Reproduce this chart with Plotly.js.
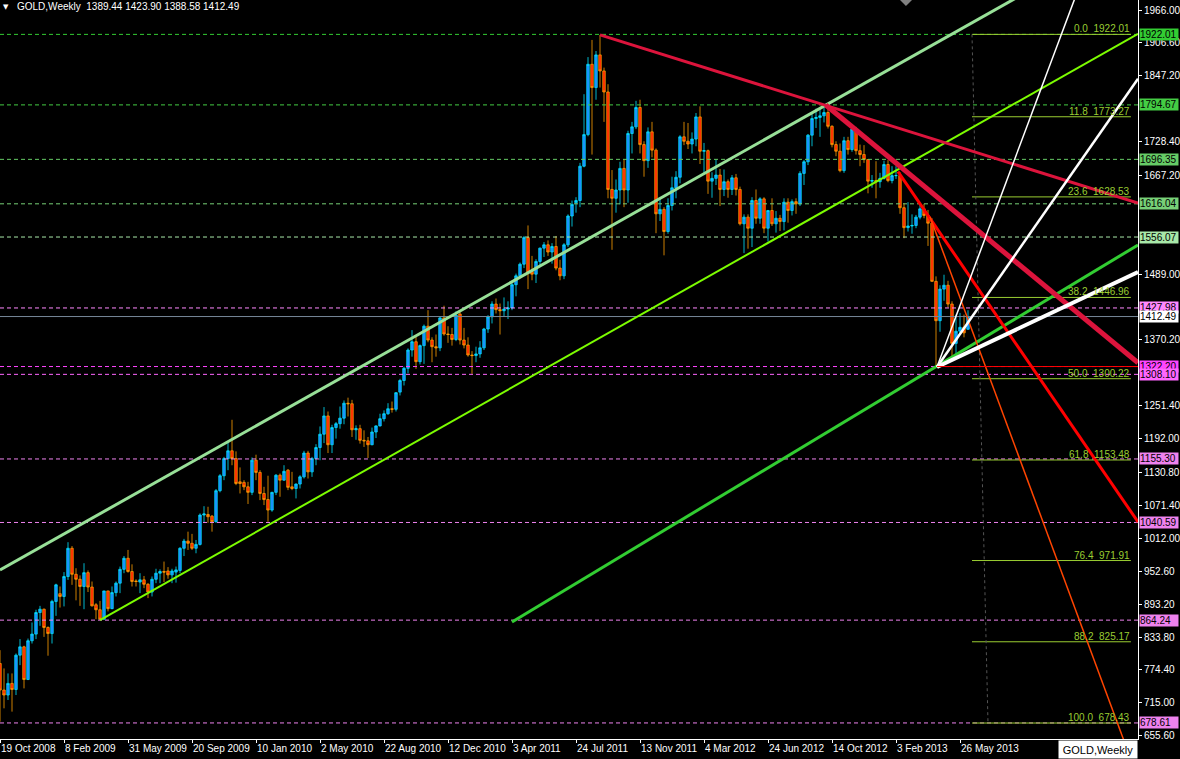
<!DOCTYPE html>
<html>
<head>
<meta charset="utf-8">
<script src="https://cdn.plot.ly/plotly-3.0.1.min.js"></script>
<style>html,body{margin:0;padding:0;background:#000;}#chart{width:1180px;height:759px;}</style>
</head>
<body>
<div id="chart"></div>
<script>
// ---------- DATA ----------
const dates = [
'2008-10-19','2008-10-26','2008-11-02','2008-11-09','2008-11-16','2008-11-23','2008-11-30','2008-12-07','2008-12-14','2008-12-21','2008-12-28',
'2009-01-04','2009-01-11','2009-01-18','2009-01-25','2009-02-01','2009-02-08','2009-02-15','2009-02-22','2009-03-01','2009-03-08','2009-03-15','2009-03-22','2009-03-29','2009-04-05','2009-04-12','2009-04-19','2009-04-26','2009-05-03','2009-05-10','2009-05-17','2009-05-24','2009-05-31','2009-06-07','2009-06-14','2009-06-21','2009-06-28','2009-07-05','2009-07-12','2009-07-19','2009-07-26','2009-08-02','2009-08-09','2009-08-16','2009-08-23','2009-08-30','2009-09-06','2009-09-13','2009-09-20','2009-09-27','2009-10-04','2009-10-11','2009-10-18','2009-10-25','2009-11-01','2009-11-08','2009-11-15','2009-11-22','2009-11-29','2009-12-06','2009-12-13','2009-12-20','2009-12-27',
'2010-01-03','2010-01-10','2010-01-17','2010-01-24','2010-01-31','2010-02-07','2010-02-14','2010-02-21','2010-02-28','2010-03-07','2010-03-14','2010-03-21','2010-03-28','2010-04-04','2010-04-11','2010-04-18','2010-04-25','2010-05-02','2010-05-09','2010-05-16','2010-05-23','2010-05-30','2010-06-06','2010-06-13','2010-06-20','2010-06-27','2010-07-04','2010-07-11','2010-07-18','2010-07-25','2010-08-01','2010-08-08','2010-08-15','2010-08-22','2010-08-29','2010-09-05','2010-09-12','2010-09-19','2010-09-26','2010-10-03','2010-10-10','2010-10-17','2010-10-24','2010-10-31','2010-11-07','2010-11-14','2010-11-21','2010-11-28','2010-12-05','2010-12-12','2010-12-19','2010-12-26',
'2011-01-02','2011-01-09','2011-01-16','2011-01-23','2011-01-30','2011-02-06','2011-02-13','2011-02-20','2011-02-27','2011-03-06','2011-03-13','2011-03-20','2011-03-27','2011-04-03','2011-04-10','2011-04-17','2011-04-24','2011-05-01','2011-05-08','2011-05-15','2011-05-22','2011-05-29','2011-06-05','2011-06-12','2011-06-19','2011-06-26','2011-07-03','2011-07-10','2011-07-17','2011-07-24','2011-07-31','2011-08-07','2011-08-14','2011-08-21','2011-08-28','2011-09-04','2011-09-11','2011-09-18','2011-09-25','2011-10-02','2011-10-09','2011-10-16','2011-10-23','2011-10-30','2011-11-06','2011-11-13','2011-11-20','2011-11-27','2011-12-04','2011-12-11','2011-12-18','2011-12-25',
'2012-01-01','2012-01-08','2012-01-15','2012-01-22','2012-01-29','2012-02-05','2012-02-12','2012-02-19','2012-02-26','2012-03-04','2012-03-11','2012-03-18','2012-03-25','2012-04-01','2012-04-08','2012-04-15','2012-04-22','2012-04-29','2012-05-06','2012-05-13','2012-05-20','2012-05-27','2012-06-03','2012-06-10','2012-06-17','2012-06-24','2012-07-01','2012-07-08','2012-07-15','2012-07-22','2012-07-29','2012-08-05','2012-08-12','2012-08-19','2012-08-26','2012-09-02','2012-09-09','2012-09-16','2012-09-23','2012-09-30','2012-10-07','2012-10-14','2012-10-21','2012-10-28','2012-11-04','2012-11-11','2012-11-18','2012-11-25','2012-12-02','2012-12-09','2012-12-16','2012-12-23','2012-12-30',
'2013-01-06','2013-01-13','2013-01-20','2013-01-27','2013-02-03','2013-02-10','2013-02-17','2013-02-24','2013-03-03','2013-03-10','2013-03-17','2013-03-24','2013-03-31','2013-04-07','2013-04-14','2013-04-21','2013-04-28','2013-05-05','2013-05-12','2013-05-19','2013-05-26','2013-06-02','2013-06-09'
];
const open = [
786,738,729,750,739,801,816,757,827,839,
878,884,851,840,898,912,907,943,994,947,
938,925,950,924,892,883,866,917,885,914,
931,956,976,952,935,933,937,929,915,938,
949,952,953,946,951,954,994,1007,1003,994,
1001,1054,1055,1052,1042,1098,1125,1156,1170,1156,
1114,1113,1105,1095,1153,1131,1093,1082,1063,1095,
1126,1117,1135,1105,1102,1110,1123,1166,1132,1156,
1176,1200,1233,1181,1212,1219,1229,1256,1255,1208,
1210,1189,1188,1181,1204,1215,1228,1237,1246,1245,
1276,1297,1319,1352,1367,1331,1360,1395,1370,1358,
1356,1410,1381,1380,1371,1417,1370,1361,1343,1342,
1345,1356,1390,1412,1435,1425,1423,1426,1428,1470,
1486,1507,1555,1494,1489,1512,1536,1542,1529,1539,
1500,1486,1542,1594,1618,1622,1684,1741,1868,1826,
1885,1856,1818,1642,1626,1641,1680,1641,1743,1755,
1790,1723,1694,1746,1713,1598,1606,1566,1613,1645,
1664,1737,1729,1724,1733,1773,1711,1712,1657,1662,
1668,1642,1656,1642,1663,1642,1580,1592,1572,1622,
1590,1625,1572,1604,1580,1590,1584,1619,1604,1620,
1616,1671,1692,1740,1770,1772,1775,1781,1756,1723,
1711,1676,1730,1714,1751,1712,1705,1696,1657,1658,
1656,1662,1687,1658,1667,1667,1609,1573,1576,1577,
1592,1607,1595,1581,1476,1405,1462,1469,1435,1364,
1386,1393,1389.44
];
const high = [
810,777,768,768,804,830,818,831,860,883,
890,885,853,901,930,925,951,1005,998,958,
945,967,954,934,895,899,917,917,925,934,
961,980,991,965,938,949,944,931,943,957,
956,970,960,957,961,996,1011,1024,1020,1009,
1057,1070,1069,1054,1101,1128,1159,1187,1226,1169,
1140,1117,1114,1158,1163,1135,1105,1125,1096,1128,
1129,1144,1137,1132,1111,1126,1170,1170,1159,1182,
1214,1249,1241,1217,1222,1250,1261,1266,1262,1216,
1217,1207,1195,1212,1216,1237,1243,1256,1259,1276,
1300,1322,1355,1388,1378,1362,1398,1424,1375,1380,
1412,1432,1395,1392,1422,1424,1392,1375,1350,1358,
1368,1392,1415,1440,1445,1436,1447,1440,1476,1490,
1510,1558,1577,1522,1516,1537,1547,1550,1545,1558,
1515,1545,1597,1622,1628,1690,1814,1881,1912,1892,
1921,1862,1832,1677,1660,1692,1696,1748,1764,1802,
1804,1729,1754,1764,1716,1624,1610,1626,1665,1675,
1740,1764,1762,1745,1780,1792,1726,1714,1673,1696,
1679,1678,1660,1668,1670,1647,1597,1597,1628,1642,
1628,1628,1605,1626,1603,1596,1626,1626,1624,1626,
1675,1695,1742,1778,1788,1787,1796,1795,1758,1729,
1725,1737,1737,1755,1755,1723,1722,1697,1668,1693,
1672,1694,1695,1684,1684,1673,1617,1619,1597,1596,
1616,1616,1605,1590,1485,1469,1488,1477,1440,1416,
1419,1416,1423.90
];
const low = [
681,705,720,699,729,783,741,756,822,830,
854,834,800,822,872,887,889,937,928,900,
890,884,915,889,866,865,865,880,884,907,
913,949,950,925,925,913,922,904,907,931,
931,933,939,931,932,949,980,991,991,985,
999,1040,1040,1024,1040,1095,1117,1135,1144,1108,
1093,1099,1074,1090,1117,1081,1072,1042,1060,1090,
1087,1116,1099,1099,1084,1102,1120,1120,1123,1144,
1153,1184,1166,1166,1192,1210,1218,1232,1195,1190,
1183,1177,1157,1180,1193,1214,1223,1235,1239,1241,
1270,1288,1310,1340,1318,1326,1327,1366,1330,1340,
1350,1378,1365,1360,1368,1362,1355,1340,1309,1330,
1338,1352,1383,1400,1418,1380,1412,1408,1424,1449,
1484,1500,1462,1478,1473,1503,1520,1522,1508,1496,
1478,1480,1538,1575,1600,1610,1682,1738,1705,1804,
1826,1764,1626,1533,1600,1615,1610,1618,1707,1751,
1707,1665,1681,1700,1563,1585,1523,1562,1604,1626,
1653,1722,1715,1707,1720,1688,1672,1634,1627,1650,
1612,1630,1627,1632,1631,1577,1527,1535,1538,1580,
1580,1563,1548,1576,1564,1567,1568,1582,1595,1598,
1612,1650,1686,1720,1753,1737,1763,1752,1718,1702,
1673,1672,1705,1710,1705,1684,1690,1635,1645,1626,
1645,1660,1655,1653,1661,1598,1554,1566,1562,1572,
1588,1590,1540,1475,1321,1385,1441,1429,1338,1338,
1380,1375,1388.58
];
const close = [
738,729,750,739,801,816,757,827,839,878,
884,851,840,898,928,907,943,994,947,938,
925,950,924,890,883,866,917,885,914,931,
956,976,952,934,934,937,929,915,938,949,
952,951,946,953,955,994,1007,1003,994,1001,
1054,1056,1051,1042,1098,1125,1156,1170,1156,1111,
1111,1105,1095,1153,1131,1093,1082,1063,1095,1126,
1117,1133,1104,1102,1110,1123,1166,1132,1156,1176,
1200,1233,1181,1212,1219,1229,1256,1255,1208,1210,
1189,1188,1181,1204,1215,1228,1237,1246,1245,1275,
1297,1319,1352,1367,1331,1360,1395,1370,1358,1356,
1410,1381,1380,1371,1415,1370,1361,1343,1342,1345,
1356,1390,1412,1435,1425,1423,1426,1428,1470,1486,
1507,1555,1491,1489,1512,1536,1542,1529,1539,1500,
1486,1542,1594,1615,1622,1684,1741,1868,1826,1885,
1856,1818,1642,1626,1641,1680,1641,1743,1755,1790,
1723,1694,1746,1713,1598,1606,1566,1613,1645,1664,
1737,1729,1724,1733,1773,1711,1712,1657,1662,1668,
1642,1656,1642,1663,1642,1580,1592,1572,1622,1590,
1625,1572,1604,1580,1590,1584,1619,1604,1620,1616,
1671,1692,1740,1770,1772,1775,1781,1756,1723,1711,
1676,1730,1714,1751,1712,1705,1696,1657,1658,1656,
1662,1687,1658,1667,1667,1609,1573,1576,1577,1592,
1607,1595,1581,1476,1405,1462,1469,1435,1364,1386,
1393,1383,1412.49
];

const xTickDates = ['2008-10-19','2009-02-08','2009-05-31','2009-09-20','2010-01-10','2010-05-02','2010-08-22','2010-12-12','2011-04-03','2011-07-24','2011-11-13','2012-03-04','2012-06-24','2012-10-14','2013-02-03','2013-05-26'];
const xTickLabels = ['19 Oct 2008','8 Feb 2009','31 May 2009','20 Sep 2009','10 Jan 2010','2 May 2010','22 Aug 2010','12 Dec 2010','3 Apr 2011','24 Jul 2011','13 Nov 2011','4 Mar 2012','24 Jun 2012','14 Oct 2012','3 Feb 2013','26 May 2013'];
const yTickValues = [1966.00,1906.60,1847.20,1728.40,1667.20,1489.00,1370.20,1251.40,1192.00,1130.80,1071.40,1012.00,952.60,893.20,833.80,774.40,715.00,655.60];

const greenLevels = [1922.01, 1794.67, 1696.35, 1616.04, 1556.07];
const violetLevels = [1427.98, 1322.20, 1308.10, 1155.30, 1040.59, 864.24, 678.61];
const lastPrice = 1412.49;

const fibRatios = ['0.0','11.8','23.6','38.2','50.0','61.8','76.4','88.2','100.0'];
const fibPrices = [1922.01,1773.27,1628.53,1446.96,1300.22,1153.48,971.91,825.17,678.43];
const fibDates = ['2013-06-16','2014-03-21'];
const fibBaseDates = ['2013-06-16','2013-07-14'];
const fibBasePrices = [1922.01, 678.43];

// trend lines: [startDate, endDate], [startPrice, endPrice]
const trendNames = ['channelUpper','channelLower','parallelGreen','fanCrimson1','fanCrimson2','fanRed','fanOrange','gannThin','gannMid','gannThick','lowRay'];
const trendDates = [
 ['2008-10-19','2014-04-02 12:00'],
 ['2009-04-12','2014-04-02 12:00'],
 ['2011-04-03','2014-04-02 12:00'],
 ['2011-09-04','2014-04-02 12:00'],
 ['2012-10-03','2014-04-02 12:00'],
 ['2013-02-06 12:00','2014-04-02 12:00'],
 ['2013-04-03 12:00','2014-04-02 12:00'],
 ['2013-04-15 18:00','2014-04-02 12:00'],
 ['2013-04-15 18:00','2014-04-02 12:00'],
 ['2013-04-15 18:00','2014-04-02 12:00'],
 ['2013-04-15 18:00','2014-04-02 12:00']
];
const trendPrices = [
 [954.8, 2111.7],
 [864.2, 1922.9],
 [861.0, 1541.7],
 [1921.0, 1617.5],
 [1794.5, 1329.0],
 [1674.0, 1041.5],
 [1592.8, 578.1],
 [1321.4, 2292.0],
 [1321.4, 1842.0],
 [1321.4, 1492.9],
 [1322.20, 1322.20]
];

const symbol = 'GOLD,Weekly';
const headerOHLC = [1389.44, 1423.90, 1388.58, 1412.49];

// ---------- STYLES ----------
const FONT = 'Liberation Sans, Arial, sans-serif';
const xRange = ['2008-10-19', '2014-04-02 12:00'];
const yRange = [649.6, 1984.1];
const greenColors = ['#33CC33','#44CC44','#66CC66','#77D077','#A8E8A8'];
const violetColors = ['#FF88FF','#FF44FF','#FF66FF','#EE82EE','#EE82EE','#EE82EE','#EE82EE'];
const trendStyle = {
 channelUpper:{color:'#98E098', width:3},
 channelLower:{color:'#7CFC00', width:2},
 parallelGreen:{color:'#32CD32', width:3},
 fanCrimson1:{color:'#DC143C', width:3},
 fanCrimson2:{color:'#DC143C', width:5},
 fanRed:{color:'#FF0000', width:3},
 fanOrange:{color:'#FF4500', width:1.5},
 gannThin:{color:'#FFFFFF', width:1.5},
 gannMid:{color:'#FFFFFF', width:2.5},
 gannThick:{color:'#FFFFFF', width:4},
 lowRay:{color:'#FF0000', width:1}
};

const traces = [];
traces.push({
 type:'candlestick', x:dates, open:open, high:high, low:low, close:close,
 increasing:{line:{color:'#00E5FF', width:0.8}, fillcolor:'#1E7FFF'},
 decreasing:{line:{color:'#FFA000', width:0.8}, fillcolor:'#FF1A00'},
 whiskerwidth:0, hoverinfo:'skip', showlegend:false
});

function hline(price, color, dash, width){
 traces.push({type:'scatter', mode:'lines', x:xRange, y:[price, price],
  line:{color:color, width:width||1, dash:dash||'solid'}, hoverinfo:'skip', showlegend:false});
}
greenLevels.forEach((p,i)=>hline(p, greenColors[i], '4px,3px'));
violetLevels.forEach((p,i)=>hline(p, violetColors[i], '4px,3px'));
hline(lastPrice, '#778899', 'solid');

// fib levels
fibPrices.forEach(p=>{
 traces.push({type:'scatter', mode:'lines', x:fibDates, y:[p,p],
  line:{color:'#9ACD32', width:1}, hoverinfo:'skip', showlegend:false});
});
traces.push({type:'scatter', mode:'lines', x:fibBaseDates, y:fibBasePrices,
 line:{color:'#555555', width:1, dash:'dot'}, hoverinfo:'skip', showlegend:false});

// trend lines
trendNames.forEach((n,i)=>{
 traces.push({type:'scatter', mode:'lines', x:trendDates[i], y:trendPrices[i],
  line:{color:trendStyle[n].color, width:trendStyle[n].width}, hoverinfo:'skip', showlegend:false});
});

// ---------- ANNOTATIONS ----------
const annotations = [];
function priceLabel(p, bg){
 annotations.push({xref:'paper', x:1, xanchor:'left', xshift:1, yref:'y', y:p, yanchor:'middle',
  text:p.toFixed(2), showarrow:false, bgcolor:bg, borderpad:0, width:38, height:11, align:'left',
  font:{family:FONT, size:10, color:'#000'}});
}
greenLevels.forEach((p,i)=>priceLabel(p, greenColors[i]));
violetLevels.forEach((p,i)=>priceLabel(p, violetColors[i]));
priceLabel(lastPrice, '#FFFFFF');

fibPrices.forEach((p,i)=>{
 annotations.push({xref:'x', x:fibDates[1], xanchor:'right', yref:'y', y:p, yanchor:'bottom', yshift:-1,
  text:fibRatios[i]+'\u00a0\u00a0'+p.toFixed(2), showarrow:false, borderpad:0,
  font:{family:FONT, size:10, color:'#9ACD32'}});
});

annotations.push({xref:'paper', x:6/1138, xanchor:'center', yref:'paper', y:1-7/739, yanchor:'middle',
 text:'\u25BC', showarrow:false, font:{family:'DejaVu Sans', size:7, color:'#FFFFFF'}});
annotations.push({xref:'paper', x:15/1138, xanchor:'left', yref:'paper', y:1-7/739, yanchor:'middle',
 text:symbol+'\u00a0\u00a0'+headerOHLC.map(v=>v.toFixed(2)).join(' '), showarrow:false,
 font:{family:FONT, size:10, color:'#FFFFFF'}});
annotations.push({xref:'paper', x:1, xanchor:'right', yref:'paper', y:0, yanchor:'top', yshift:-1,
 text:symbol, showarrow:false, bgcolor:'#FFFFFF', width:78, height:17, borderpad:0,
 font:{family:FONT, size:11, color:'#000000'}});

const layout = {
 width:1180, height:759,
 paper_bgcolor:'#000000', plot_bgcolor:'#000000',
 margin:{l:0, r:42, t:0, b:20, pad:0},
 showlegend:false, hovermode:false, boxgap:0.12,
 xaxis:{type:'date', range:xRange, rangeslider:{visible:false}, showgrid:false, zeroline:false,
  showline:true, linecolor:'#FFFFFF', linewidth:1, ticks:'outside', ticklen:3, tickcolor:'#FFFFFF',
  tickmode:'array', tickvals:xTickDates, ticktext:xTickLabels, ticklabelposition:'outside right',
  tickangle:0, ticklabeloverflow:'allow',
  tickfont:{family:FONT, size:10, color:'#FFFFFF'}, fixedrange:true},
 yaxis:{side:'right', range:yRange, showgrid:false, zeroline:false, showline:true, linecolor:'#FFFFFF',
  ticks:'outside', ticklen:3, tickcolor:'#FFFFFF', tickmode:'array', tickvals:yTickValues,
  ticktext:yTickValues.map(v=>v.toFixed(2)), tickfont:{family:FONT, size:10, color:'#FFFFFF'}, fixedrange:true},
 annotations:annotations,
 shapes:[{type:'path', xref:'paper', yref:'paper', path:'M0.7909,1 L0.8014,1 L0.7961,0.9919 Z',
  fillcolor:'#808080', line:{width:0}}]
};

Plotly.newPlot('chart', traces, layout, {staticPlot:true, displayModeBar:false});
</script>
</body>
</html>
